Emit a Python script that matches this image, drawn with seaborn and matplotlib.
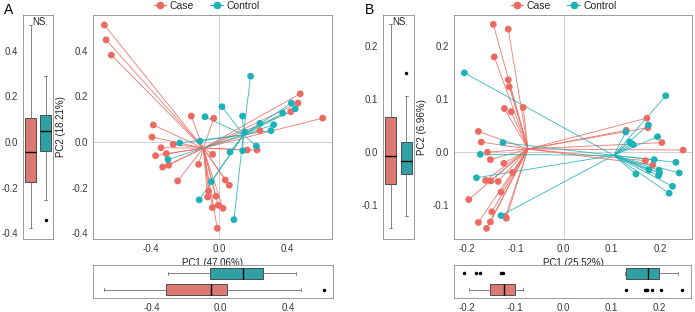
import numpy as np
import pandas as pd
import matplotlib
matplotlib.use("Agg")
import matplotlib.pyplot as plt
from matplotlib.lines import Line2D
import seaborn as sns

# ---------------- data ----------------
groups = ["Case", "Control"]

# Panel A
pc1_A_case = [-0.676, -0.666, -0.635, 0.476, 0.463, 0.420, 0.608, -0.165, -0.033, -0.388, -0.396,
              -0.271, -0.343, -0.375, -0.312, -0.298, -0.333, -0.245, -0.122, -0.039, 0.239, 0.165,
              0.222, 0.035, 0.059, -0.063, -0.069, -0.020, -0.041, -0.006, 0.022, -0.012]
pc2_A_case = [0.514, 0.449, 0.382, 0.212, 0.171, 0.133, 0.105, 0.114, 0.104, 0.075, 0.022,
              -0.010, -0.025, -0.060, -0.051, -0.102, -0.110, -0.171, -0.098, -0.054, 0.050, -0.035,
              -0.035, -0.167, -0.190, -0.216, -0.241, -0.238, -0.288, -0.278, -0.291, -0.379]
pc1_A_ctrl = [0.184, 0.016, -0.084, 0.137, 0.424, 0.447, 0.373, 0.239, 0.320, 0.304, 0.151,
              -0.233, -0.114, 0.218, 0.063, 0.137, -0.302, -0.047, -0.118, 0.086]
pc2_A_ctrl = [0.289, 0.155, 0.111, 0.114, 0.171, 0.146, 0.127, 0.082, 0.076, 0.050, 0.044,
              -0.004, 0.004, -0.018, -0.044, -0.038, -0.077, -0.174, -0.254, -0.341]
centroid_A = {"Case": (-0.094, -0.027), "Control": (0.142, 0.032)}
xlab_A, ylab_A = "PC1 (47.06%)", "PC2 (18.21%)"

# Panel B
pc1_B_case = [-0.146, -0.115, -0.144, -0.115, -0.113, -0.123, -0.109, -0.084, -0.177, -0.171, -0.158,
              -0.152, -0.124, -0.106, -0.162, -0.151, -0.136, -0.130, -0.197, -0.149, -0.152, -0.177,
              -0.160, -0.121, -0.119, 0.173, 0.175, 0.130, 0.204, 0.248, 0.170, 0.185]
pc2_B_case = [0.240, 0.231, 0.179, 0.136, 0.123, 0.082, 0.076, 0.084, 0.039, 0.019, 0.000,
              -0.014, -0.021, -0.038, -0.053, -0.054, -0.055, -0.075, -0.089, -0.112, -0.131, -0.132,
              -0.143, -0.121, -0.124, 0.064, 0.046, 0.041, 0.018, 0.004, -0.016, -0.024]
pc1_B_ctrl = [-0.206, -0.126, -0.173, -0.181, -0.130, 0.212, 0.176, 0.129, 0.195, 0.137, 0.145,
              0.188, 0.233, 0.177, 0.198, 0.240, 0.150, 0.197, 0.226, 0.219, 0.141, 0.199]
pc2_B_ctrl = [0.149, 0.018, -0.004, -0.048, -0.119, 0.106, 0.051, 0.038, 0.029, 0.019, 0.014,
              -0.014, -0.019, -0.033, -0.034, -0.039, -0.041, -0.044, -0.064, -0.077, 0.016, -0.039]
centroid_B = {"Case": (-0.074, 0.006), "Control": (0.104, -0.006)}
xlab_B, ylab_B = "PC1 (25.52%)", "PC2 (6.96%)"

# ---------------- style ----------------
sns.set_theme(style="white")
plt.rcParams["font.family"] = ["Liberation Sans", "DejaVu Sans"]

palette = {"Case": "#EC6A60", "Control": "#1DB2B7"}
W, H = 695, 312
fig = plt.figure(figsize=(W / 100, H / 100), dpi=100)


def rect(x0, x1, y0, y1):
    return [x0 / W, 1 - y1 / H, (x1 - x0) / W, (y1 - y0) / H]


def style(ax):
    for s in ax.spines.values():
        s.set_color("#8C8C8C")
        s.set_linewidth(0.6)
    ax.tick_params(length=2, width=0.5, color="#666666", labelsize=7,
                   labelcolor="#3A3A3A", pad=1.5)


box_kw = dict(palette=palette, linecolor="#3A3A3A", linewidth=0.6, fliersize=1.5,
              legend=False, capwidths=0.18,
              medianprops={"color": "black", "linewidth": 1.0},
              whiskerprops={"color": "#707070"},
              capprops={"color": "#707070"},
              flierprops={"marker": "o", "markerfacecolor": "black",
                          "markeredgecolor": "black"})


def panel(x_case, y_case, x_ctrl, y_ctrl, cent, xlab, ylab, xlim, ylim, xt, yt,
          r_left, r_sc, r_bot, letter, letter_x, leg_x, ns_x):
    df = pd.DataFrame({
        "PC1": list(x_case) + list(x_ctrl),
        "PC2": list(y_case) + list(y_ctrl),
        "group": ["Case"] * len(x_case) + ["Control"] * len(x_ctrl),
    })

    # scatter with spokes to centroids
    ax = fig.add_axes(rect(*r_sc))
    ax.axhline(0, color="#C9C9C9", lw=0.6, zorder=0)
    ax.axvline(0, color="#C9C9C9", lw=0.6, zorder=0)
    for g in groups:
        cx, cy = cent[g]
        sub = df[df.group == g]
        for x, y in zip(sub.PC1, sub.PC2):
            ax.plot([cx, x], [cy, y], color=palette[g], lw=0.6, alpha=0.9, zorder=1)
    sns.scatterplot(data=df, x="PC1", y="PC2", hue="group", palette=palette, s=24,
                    linewidth=0, ax=ax, legend=False, zorder=3)
    ax.set_xlim(xlim)
    ax.set_ylim(ylim)
    ax.set_xticks(xt)
    ax.set_yticks(yt)
    ax.set_xticklabels([f"{v:.1f}" for v in xt])
    ax.set_yticklabels([f"{v:.1f}" for v in yt])
    ax.set_xlabel(xlab, fontsize=7, color="#222222")
    ax.set_ylabel(ylab, fontsize=7, color="#222222")
    ax.xaxis.set_label_coords(0.5, -0.085)
    ax.yaxis.set_label_coords(-0.115, 0.5)
    style(ax)
    handles = [Line2D([0], [0], color=palette[g], marker="o", markersize=4.5, lw=0.8)
               for g in groups]
    ax.legend(handles, groups, loc="center", bbox_to_anchor=(leg_x, 1.04), ncol=2,
              frameon=False, fontsize=7.5, handlelength=1.2, handletextpad=0.3,
              columnspacing=1.6, borderaxespad=0)

    # left vertical boxplot of PC2
    axl = fig.add_axes(rect(*r_left))
    sns.boxplot(data=df, x="group", y="PC2", hue="group", order=groups, width=0.7,
                ax=axl, **box_kw)
    axl.set_ylim(ylim)
    axl.set_yticks(yt)
    axl.set_yticklabels([f"{v:.1f}" for v in yt])
    axl.set_xticks([])
    axl.set_xlabel("")
    axl.set_ylabel("")
    style(axl)
    axl.text(ns_x, 0.968, "NS.", transform=axl.transAxes, ha="center", va="center",
             fontsize=7, color="#222222")

    # bottom horizontal boxplot of PC1
    axb = fig.add_axes(rect(*r_bot))
    sns.boxplot(data=df, x="PC1", y="group", hue="group", order=["Control", "Case"],
                orient="h", width=0.65, ax=axb, **box_kw)
    axb.set_xlim(xlim)
    axb.set_xticks(xt)
    axb.set_xticklabels([f"{v:.1f}" for v in xt])
    axb.set_yticks([])
    axb.set_xlabel("")
    axb.set_ylabel("")
    style(axb)

    fig.text(letter_x / W, 1 - 10 / H, letter, fontsize=10, ha="center", va="center",
             color="black")


panel(pc1_A_case, pc2_A_case, pc1_A_ctrl, pc2_A_ctrl, centroid_A, xlab_A, ylab_A,
      (-0.743, 0.663), (-0.426, 0.558), [-0.4, 0.0, 0.4], [-0.4, -0.2, 0.0, 0.2, 0.4],
      (23, 53, 15, 239), (93, 332, 15, 239), (93, 333, 265, 298), "A", 9, 0.475, 0.58)

panel(pc1_B_case, pc2_B_case, pc1_B_ctrl, pc2_B_ctrl, centroid_B, xlab_B, ylab_B,
      (-0.2276, 0.2665), (-0.163, 0.2576), [-0.2, -0.1, 0.0, 0.1, 0.2],
      [-0.1, 0.0, 0.1, 0.2],
      (383, 414, 15, 239), (454, 692, 15, 239), (454, 691, 265, 298), "B", 369, 0.46, 0.55)

fig.savefig("out.png", dpi=100)
